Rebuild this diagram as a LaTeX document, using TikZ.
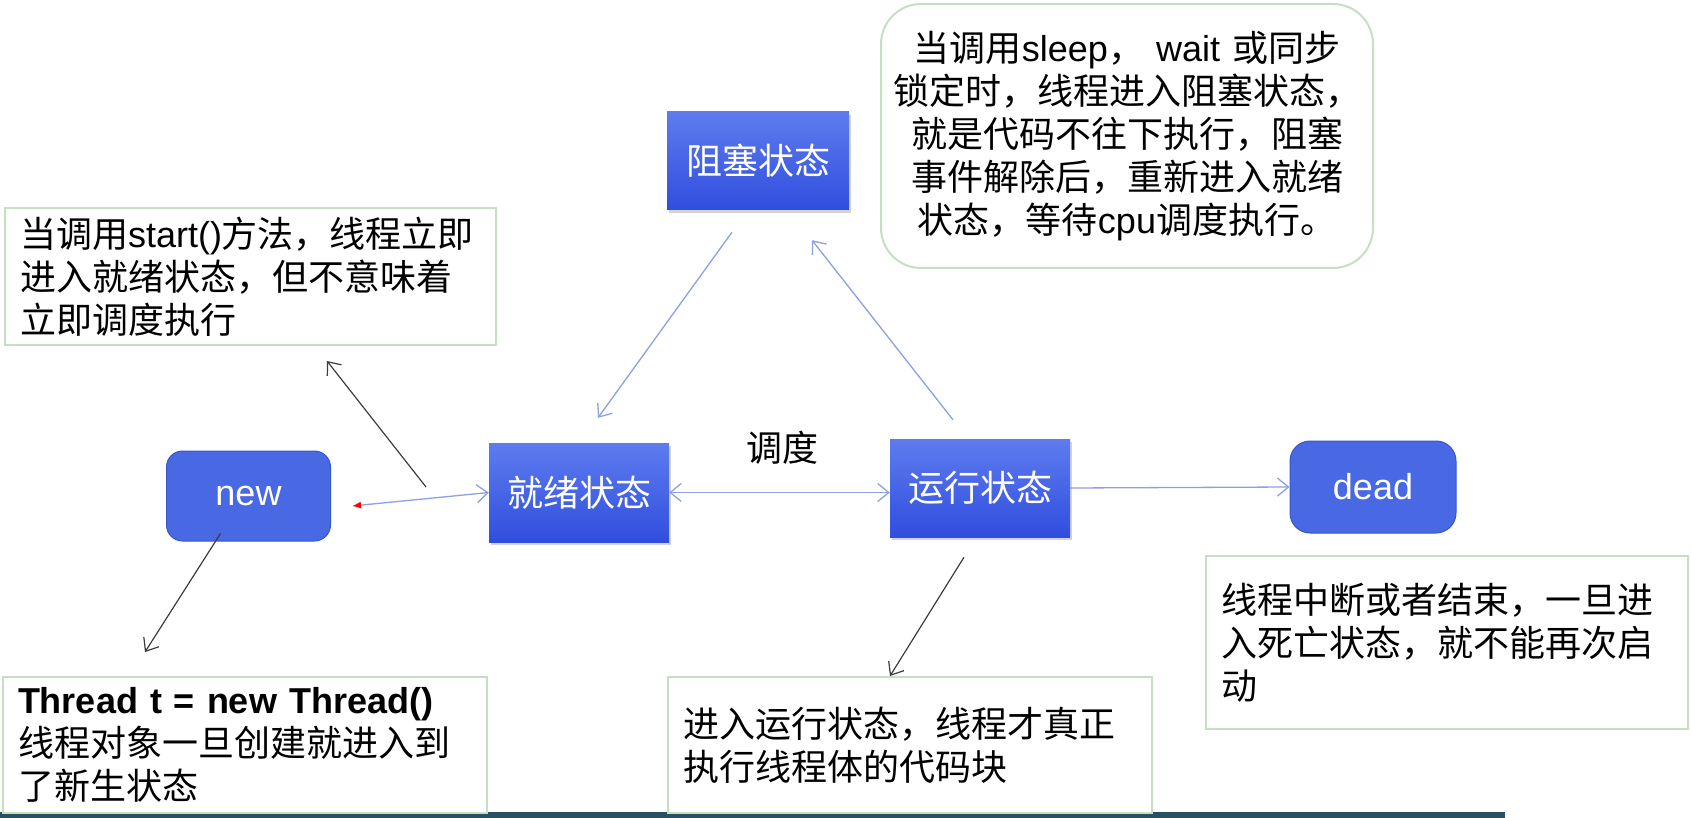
\documentclass[tikz,border=0pt]{standalone}
\usepackage{fontspec}
\setmainfont{Noto Sans CJK SC}
\newfontfamily\lat{Liberation Sans}
\usetikzlibrary{arrows.meta,shadows}

\definecolor{stateblue}{RGB}{72,104,228}
\definecolor{stateedge}{RGB}{58,86,200}
\definecolor{shadetop}{RGB}{94,124,238}
\definecolor{shadebot}{RGB}{48,78,222}
\definecolor{notegreen}{RGB}{196,224,192}
\definecolor{linkblue}{RGB}{140,160,226}
\definecolor{linkdark}{RGB}{60,60,60}
\definecolor{stripteal}{RGB}{40,80,98}

\begin{document}
\begin{tikzpicture}[x=1pt,y=-1pt,
  >={Straight Barb[length=11pt,width=18pt]},
  every node/.style={font=\fontsize{36}{43}\selectfont},
  state/.style={minimum width=180pt,minimum height=98pt,inner sep=0pt,text=white,
    top color=shadetop,bottom color=shadebot,
    drop shadow={shadow xshift=2pt,shadow yshift=-3pt,opacity=0.35}},
  endstate/.style={minimum width=164pt,minimum height=90pt,inner sep=0pt,text=white,
    fill=stateblue,draw=stateedge,line width=1pt,rounded corners=16pt},
  note/.style={draw=notegreen,line width=2pt,fill=white,inner xsep=15pt,inner ysep=0pt,align=left},
  link/.style={draw=linkblue,line width=1.3pt,->},
  hint/.style={draw=linkdark,line width=1.2pt,->}]
  \useasboundingbox (0,0) rectangle (1691,818);
  % photo strip along the bottom edge
  \fill[stripteal] (0,812) rectangle (1505,818);
  % notes
  \node[note,text width=461pt,minimum height=137pt] (startnote) at (250.5,276.5)
    {当调用{\lat start()}方法，线程立即\\进入就绪状态，但不意味着\\立即调度执行};
  \node[note,rounded corners=40pt,align=center,inner xsep=10pt,text width=472pt,minimum height=264pt] (blockednote) at (1127,136)
    {当调用{\lat sleep}， {\lat wait} 或同步\\锁定时，线程进入阻塞状态，\\就是代码不往下执行，阻塞\\事件解除后，重新进入就绪\\状态，等待{\lat cpu}调度执行。};
  \node[note,text width=454pt,minimum height=136pt] (threadnote) at (245,745)
    {{\lat\bfseries Thread t = new Thread()}\\线程对象一旦创建就进入到\\了新生状态};
  \node[note,text width=454pt,minimum height=136pt] (runnote) at (910,745)
    {进入运行状态，线程才真正\\执行线程体的代码块};
  \node[note,text width=452pt,minimum height=173pt] (deadnote) at (1447,642.5)
    {线程中断或者结束，一旦进\\入死亡状态，就不能再次启\\动};
  % states
  \node[endstate] (new) at (248.5,496) {\lat new};
  \node[state,minimum height=99pt] (ready) at (579,492.5) {就绪状态};
  \node[state,minimum width=182pt] (blocked) at (758,161) {阻塞状态};
  \node[state] (running) at (980,488) {运行状态};
  \node[endstate,minimum width=166pt,minimum height=92pt,rounded corners=20pt] (dead) at (1373,487) {\lat dead};
  \node (sched) at (782,448) {调度};
  % free ends
  \coordinate (newtip) at (352,506);
  \coordinate (hintfoot) at (426,487);
  \coordinate (hinthead) at (327,361);
  % blue transitions
  \draw[link] ([xshift=-26pt,yshift=-22pt]blocked.south) -- ([xshift=19pt,yshift=25pt]ready.north);
  \draw[link] ([xshift=-27pt,yshift=19pt]running.north) -- ([xshift=54pt,yshift=-30pt]blocked.south);
  \draw[link,<->] (ready.east) -- (ready.east -| running.west);
  \draw[link] (running.east) -- (dead.west);
  \draw[link,{Latex[red,length=9pt,width=7pt]}->] (newtip) -- (ready.west);
  % black pointers to the notes
  \draw[hint] (hintfoot) -- (hinthead);
  \draw[hint] ([xshift=-28pt,yshift=8pt]new.south) -- ([xshift=-100pt,yshift=24pt]threadnote.north);
  \draw[hint] ([xshift=-16pt,yshift=-20pt]running.south) -- ([xshift=-20pt]runnote.north);
\end{tikzpicture}
\end{document}
